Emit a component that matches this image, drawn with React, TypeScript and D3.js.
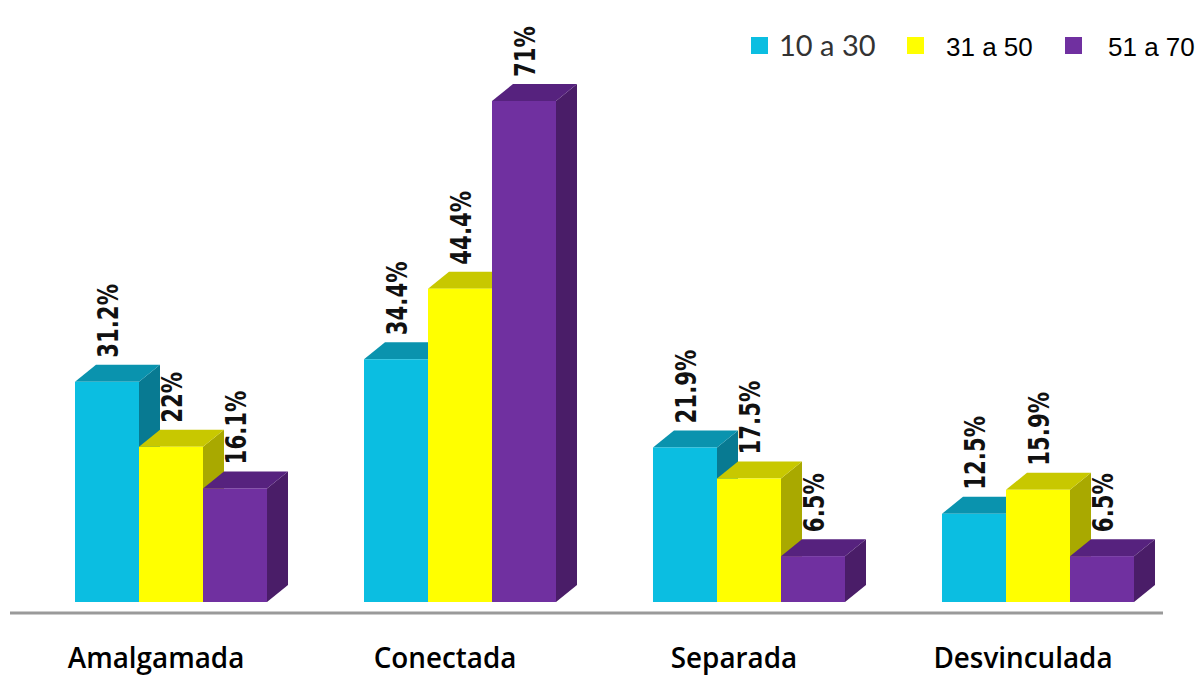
import React from "react";
import * as d3 from "d3";

const categories = ["Amalgamada", "Conectada", "Separada", "Desvinculada"];
const seriesNames = ["10 a 30", "31 a 50", "51 a 70"];
const s1030 = [31.2, 34.4, 21.9, 12.5];
const s3150 = [22, 44.4, 17.5, 15.9];
const s5170 = [16.1, 71, 6.5, 6.5];
const labels1030 = ["31.2%", "34.4%", "21.9%", "12.5%"];
const labels3150 = ["22%", "44.4%", "17.5%", "15.9%"];
const labels5170 = ["16.1%", "71%", "6.5%", "6.5%"];

const colors = [
  { front: "#0BBEE1", top: "#0A93AE", side: "#087A92" },
  { front: "#FFFF00", top: "#C8C800", side: "#A9A900" },
  { front: "#7030A0", top: "#56227E", side: "#4A1D68" },
];

const W = 1199;
const H = 677;
const DX = 21;
const DY = 17;

export default function App() {
  const series = [s1030, s3150, s5170];
  const labels = [labels1030, labels3150, labels5170];
  const x0 = d3.scaleBand<string>().domain(categories).range([75, 1134]).paddingInner(0.3356).paddingOuter(0);
  const x1 = d3.scaleBand<number>().domain([0, 1, 2]).range([0, x0.bandwidth()]).padding(0);
  const y = d3.scaleLinear().domain([0, 71]).range([602, 101]);
  const bw = x1.bandwidth();

  const bars: React.ReactNode[] = [];
  const texts: React.ReactNode[] = [];
  categories.forEach((c, ci) => {
    series.forEach((s, si) => {
      const xl = (x0(c) as number) + (x1(si) as number);
      const xr = xl + bw;
      const yt = y(s[ci]);
      const yb = y(0);
      const col = colors[si];
      bars.push(
        <g key={`${ci}-${si}`}>
          <path d={`M${xr},${yt} L${xr + DX},${yt - DY} L${xr + DX},${yb - DY} L${xr},${yb} Z`} fill={col.side} />
          <path d={`M${xl},${yt} L${xl + DX},${yt - DY} L${xr + DX},${yt - DY} L${xr},${yt} Z`} fill={col.top} />
          <rect x={xl} y={yt} width={bw} height={yb - yt} fill={col.front} />
        </g>
      );
      const tx = xl + bw / 2 + 11;
      const ty = yt - DY - 7;
      texts.push(
        <text
          key={`t${ci}-${si}`}
          transform={`translate(${tx},${ty}) rotate(-90) scale(0.76,1)`}
          fontFamily="DejaVu Sans"
          fontWeight="bold"
          fontSize={28}
          fill="#111"
        >
          {labels[si][ci]}
        </text>
      );
    });
  });

  const legendItems = [
    { sx: 751, tx: 779, font: "Lato", size: 29, color: "#333" },
    { sx: 907, tx: 946, font: "Liberation Sans", size: 26, color: "#000" },
    { sx: 1065, tx: 1108, font: "Liberation Sans", size: 26, color: "#000" },
  ];

  return (
    <svg width={W} height={H} style={{ position: "absolute", left: 0, top: 0 }}>
      <rect width={W} height={H} fill="#fff" />
      {bars}
      {texts}
      <line x1={10} x2={1163} y1={613} y2={613} stroke="#9a9a9a" strokeWidth={3} />
      {categories.map((c) => {
        const cx = (x0(c) as number) + x0.bandwidth() / 2 - 15;
        return (
          <text
            key={c}
            transform={`translate(${cx},668) scale(0.96,1)`}
            textAnchor="middle"
            fontFamily="Open Sans"
            fontWeight={600}
            fontSize={29}
            fill="#000"
          >
            {c}
          </text>
        );
      })}
      {seriesNames.map((n, i) => (
        <g key={n}>
          <rect x={legendItems[i].sx} y={37} width={17} height={17} fill={colors[i].front} />
          <text
            x={legendItems[i].tx}
            y={56}
            fontFamily={legendItems[i].font}
            fontSize={legendItems[i].size}
            fill={legendItems[i].color}
          >
            {n}
          </text>
        </g>
      ))}
    </svg>
  );
}
